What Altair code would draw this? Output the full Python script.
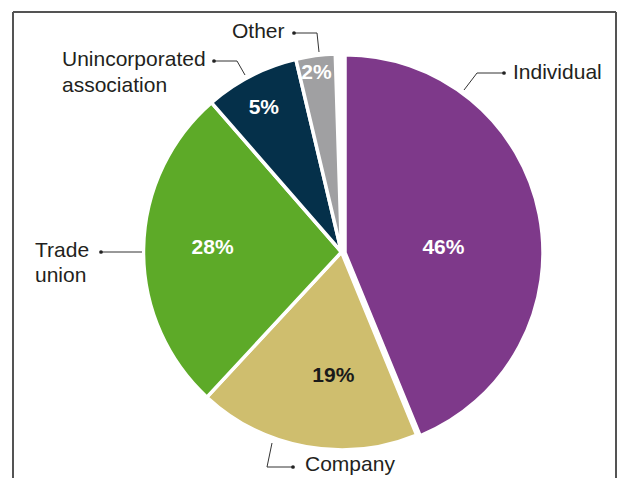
import math
import altair as alt
import pandas as pd

# ---- data ----
categories = ["Individual", "Company", "Trade union", "Unincorporated association", "Other"]
shares = [43.8, 18.1, 26.7, 7.7, 3.2]          # slice sizes as drawn (% of circle)
pct_labels = ["46%", "19%", "28%", "5%", "2%"]
colors = ["#7E398A", "#CFBE6E", "#5DAA28", "#05304A", "#A0A0A2"]
pct_text_colors = ["#FFFFFF", "#1A1A1A", "#FFFFFF", "#FFFFFF", "#FFFFFF"]

# ---- layout (page pixels, chart origin is at page (8,8)) ----
OFF = 8
W, H = 609, 470
CX, CY, R = 341.5 - OFF, 252 - OFF, 198
EXPLODE = (3.5, 0.7)  # Individual slice pulled out slightly
label_radius = [102, 124, 129, 164, 181]
label_dtheta_deg = [8.8, -6.5, 0.8, -1.1, -0.4]

leaders = {
    "Individual": [(464, 90), (477, 73), (504, 73)],
    "Other": [(319, 52), (317, 33), (294, 33)],
    "Unincorporated association": [(245, 75), (237, 61), (214, 61)],
    "Trade union": [(142, 252), (101, 252)],
    "Company": [(272, 443), (267, 467), (293, 467)],
}
name_texts = [
    ("Individual", 513, 73),
    ("Other", 232, 32),
    ("Unincorporated", 62, 60),
    ("association", 62, 86),
    ("Trade", 35, 251),
    ("union", 35, 276),
    ("Company", 305, 465),
]

df = pd.DataFrame({
    "category": categories,
    "share": shares,
    "pct": pct_labels,
    "tcolor": pct_text_colors,
    "order": list(range(len(categories))),
    "lr": label_radius,
    "dth": label_dtheta_deg,
})

theta_scale = alt.Scale(domain=[0, 100], range=[0, 2 * math.pi])
color_scale = alt.Scale(domain=categories, range=colors)

base = (
    alt.Chart(df)
    .transform_window(end="sum(share)", sort=[alt.SortField("order")], frame=[None, 0])
    .transform_calculate(start="datum.end - datum.share",
                         mid="datum.end - datum.share / 2 + datum.dth / 3.6")
)

def slices(filter_expr, cx, cy):
    return base.transform_filter(filter_expr).mark_arc(
        outerRadius=R, stroke="white", strokeWidth=3.5
    ).encode(
        theta=alt.Theta("start:Q", scale=theta_scale),
        theta2="end:Q",
        color=alt.Color("category:N", scale=color_scale, legend=None),
        x=alt.value(cx),
        y=alt.value(cy),
    )

others = slices("datum.category != 'Individual'", CX, CY)
indiv = slices("datum.category == 'Individual'", CX + EXPLODE[0], CY + EXPLODE[1])

pct = base.mark_text(font="Liberation Sans", fontSize=21, fontWeight="bold",
                     baseline="middle", align="center").encode(
    theta=alt.Theta("mid:Q", scale=theta_scale),
    radius=alt.Radius("lr:Q", scale=None),
    text="pct:N",
    color=alt.Color("tcolor:N", scale=None),
    x=alt.value(CX),
    y=alt.value(CY),
)

# leader lines
rows = []
for g, pts in leaders.items():
    for i, (px, py) in enumerate(pts):
        rows.append({"g": g, "i": i, "x": px - OFF, "y": py - OFF})
ldf = pd.DataFrame(rows)
lines = alt.Chart(ldf).mark_line(color="#333333", strokeWidth=1).encode(
    x=alt.X("x:Q", scale=None, axis=None),
    y=alt.Y("y:Q", scale=None, axis=None),
    detail="g:N",
    order="i:Q",
)
dots_df = pd.DataFrame([{"x": pts[-1][0] - OFF, "y": pts[-1][1] - OFF} for pts in leaders.values()])
dots = alt.Chart(dots_df).mark_circle(color="#222222", size=14, opacity=1).encode(
    x=alt.X("x:Q", scale=None, axis=None),
    y=alt.Y("y:Q", scale=None, axis=None),
)

tdf = pd.DataFrame([{"t": t, "x": x - OFF, "y": y - OFF} for t, x, y in name_texts])
names = alt.Chart(tdf).mark_text(font="Liberation Sans", fontSize=21, align="left",
                                 baseline="middle", color="#231F20").encode(
    x=alt.X("x:Q", scale=None, axis=None),
    y=alt.Y("y:Q", scale=None, axis=None),
    text="t:N",
)

# frame (right edge kept inside the drawable area)
fx1, fy1, fx2 = 13 - OFF, 12 - OFF, W - 1
frame_l = alt.Chart(df).mark_rule(color="#555555", strokeWidth=1.5).encode(
    x=alt.value(fx1), y=alt.value(fy1), y2=alt.value(H))
frame_r = alt.Chart(df).mark_rule(color="#555555", strokeWidth=1.5).encode(
    x=alt.value(fx2), y=alt.value(fy1), y2=alt.value(H))
frame_t = alt.Chart(df).mark_rule(color="#555555", strokeWidth=1.5).encode(
    x=alt.value(fx1), x2=alt.value(fx2), y=alt.value(fy1))

chart = alt.layer(
    frame_l, frame_r, frame_t, others, indiv, pct, lines, dots, names
).properties(
    width=W, height=H, autosize=alt.AutoSizeParams(type="none"), padding=0
).configure_view(stroke=None)

chart.save("out.html", embed_options={"renderer": "svg", "actions": False})
